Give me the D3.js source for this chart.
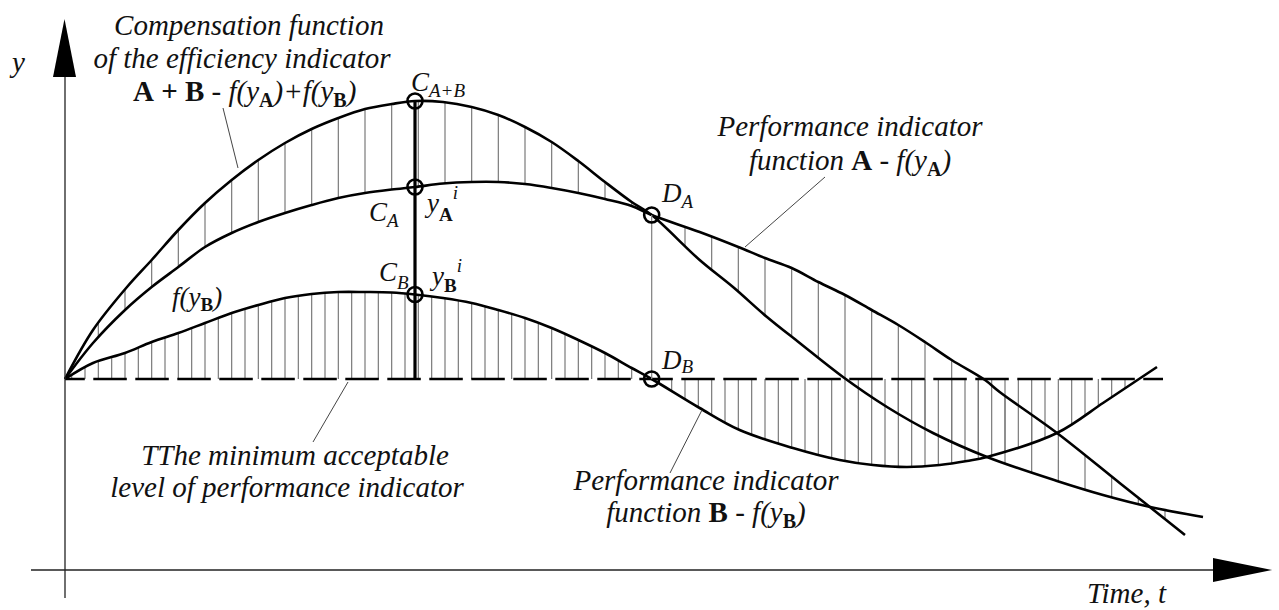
<!DOCTYPE html>
<html><head><meta charset="utf-8">
<script src="https://cdn.jsdelivr.net/npm/d3@7"></script>
<style>
html,body{margin:0;padding:0;background:#fff;}
svg{display:block;}
</style></head><body>
<svg id="chart" width="1279" height="610"></svg>
<script>
// ---- data (t = time units, v = indicator level; 0 = minimum acceptable level) ----
const sumT = [0, 2.1, 4.65, 6.5, 8.5, 10.5, 12.5, 14.5, 16.5, 18.5, 20.5, 22.5, 24.5, 26.25, 28.35, 30.5, 32.5, 34.5, 36.5, 38.5, 40.5, 42.5, 44, 47.6, 50.1, 52.65, 55.1, 58.35, 61.65, 65.1, 69.15, 74.4, 77.85, 81.4, 85.35];
const sumV = [0, 4.9, 9.2, 11.9, 14.9, 17.6, 19.9, 21.9, 23.6, 25.0, 26.1, 27.0, 27.5, 27.8, 27.7, 27.2, 26.4, 25.2, 23.7, 21.8, 19.7, 17.7, 16.4, 11.9, 9.2, 6.2, 3.6, 0.2, -2.8, -5.4, -7.8, -10.2, -11.6, -12.8, -13.8];
const aT = [0, 2.1, 4.5, 6.5, 8.5, 10.5, 12.5, 14.5, 16.5, 18.5, 20.5, 22.5, 24.5, 26.25, 28.35, 30.5, 32.5, 34.5, 36.5, 38.5, 40.5, 42.5, 44, 47.6, 50.5, 52.5, 54.5, 56.5, 58.5, 60.5, 62.5, 64.5, 66.5, 69, 70.1, 74.4, 79.1, 84];
const aV = [0, 3.6, 6.9, 9.2, 11.2, 13.2, 14.6, 15.7, 16.6, 17.4, 18.1, 18.6, 18.95, 19.2, 19.55, 19.7, 19.7, 19.5, 19.1, 18.6, 18.0, 17.3, 16.4, 14.7, 13.2, 12.1, 11.1, 9.7, 8.4, 6.9, 5.4, 3.7, 1.9, -0.1, -1.3, -5.4, -10.4, -15.6];
const bT = [0, 2.1, 4.5, 6.5, 8.5, 10.5, 12.5, 14.5, 16.5, 18.5, 20.5, 22.5, 24.5, 26.25, 28.35, 30.5, 32.5, 34.5, 36.5, 38.5, 40.5, 42.5, 44, 47.6, 50.6, 54.6, 58.1, 60.6, 63.15, 65.6, 67.65, 69.15, 74.4, 77.85, 80.1, 81.9];
const bV = [0, 1.6, 2.6, 3.7, 4.6, 5.6, 6.6, 7.4, 8.1, 8.5, 8.7, 8.7, 8.65, 8.45, 8.1, 7.6, 6.9, 6.1, 5.1, 3.9, 2.6, 1.1, 0, -2.9, -5.1, -6.9, -8.1, -8.6, -8.8, -8.6, -8.2, -7.8, -5.4, -2.4, -0.4, 1.2];
const minLevel = 0;
const minLevelEnd = 82.35;
const cT = 26.25;   // moment C
const dT = 44;      // moment D
const hatchSumA = d3.range(2.5, 84, 2);
const hatchB = d3.range(0.5, 81, 1);

// ---- scales ----
const FONT = '"Liberation Serif"';
const svg = d3.select('#chart');
const x = d3.scaleLinear().domain([0, 90]).range([65, 1265]);
const y = d3.scaleLinear().domain([-20, 30]).range([579, 79]);
const line = d3.line().x(d => x(d[0])).y(d => y(d[1])).curve(d3.curveCatmullRom.alpha(0.5));
const zip = (T, V) => T.map((t, i) => [t, V[i]]);

const gH = svg.append('g');
const gC = svg.append('g');

function drawCurve(T, V) {
  return gC.append('path').attr('d', line(zip(T, V)))
    .attr('fill', 'none').attr('stroke', '#000').attr('stroke-width', 2.6)
    .attr('stroke-linejoin', 'round').node();
}
const pSum = drawCurve(sumT, sumV);
const pA = drawCurve(aT, aV);
const pB = drawCurve(bT, bV);

function yAt(node, px) {
  const L = node.getTotalLength();
  let lo = 0, hi = L;
  for (let i = 0; i < 40; i++) {
    const mid = (lo + hi) / 2;
    if (node.getPointAtLength(mid).x < px) lo = mid; else hi = mid;
  }
  return node.getPointAtLength((lo + hi) / 2).y;
}

// ---- hatching ----
hatchSumA.forEach(t => {
  if (t > d3.max(aT) || t > d3.max(sumT)) return;
  const px = x(t), y1 = yAt(pSum, px), y2 = yAt(pA, px);
  if (Math.abs(y1 - y2) < 1.5) return;
  gH.append('line').attr('x1', px).attr('x2', px).attr('y1', y1).attr('y2', y2)
    .attr('stroke', '#7a7a7a').attr('stroke-width', 1.2);
});
hatchB.forEach(t => {
  if (t > d3.max(bT)) return;
  const px = x(t), y1 = y(minLevel), y2 = yAt(pB, px);
  if (Math.abs(y1 - y2) < 1.5) return;
  gH.append('line').attr('x1', px).attr('x2', px).attr('y1', y1).attr('y2', y2)
    .attr('stroke', '#7a7a7a').attr('stroke-width', 1.2);
});

// ---- minimum acceptable level (dashed) ----
svg.append('line').attr('x1', x(0)).attr('x2', x(minLevelEnd))
  .attr('y1', y(minLevel)).attr('y2', y(minLevel))
  .attr('stroke', '#000').attr('stroke-width', 2.6)
  .attr('stroke-dasharray', '33.5 8.5').attr('stroke-dashoffset', 13.7);

// ---- axes ----
const axisC = '#222';
svg.append('line').attr('x1', x(0)).attr('x2', x(0)).attr('y1', 77).attr('y2', 598)
  .attr('stroke', axisC).attr('stroke-width', 1.3);
svg.append('line').attr('x1', 31).attr('x2', 1213).attr('y1', 570).attr('y2', 570)
  .attr('stroke', axisC).attr('stroke-width', 1.3);
svg.append('polygon').attr('points', `${x(0)-0.5},19 ${x(0)-12},77 ${x(0)+11},77`).attr('fill', '#000');
svg.append('polygon').attr('points', '1272,570 1213,558 1213,582').attr('fill', '#000');

// ---- C and D verticals ----
const cx = x(cT), dx = x(dT);
const ySumC = yAt(pSum, cx), yAC = yAt(pA, cx), yBC = yAt(pB, cx);
const yAD = yAt(pA, dx), yBD = yAt(pB, dx);
svg.append('line').attr('x1', cx).attr('x2', cx).attr('y1', ySumC).attr('y2', y(minLevel))
  .attr('stroke', '#000').attr('stroke-width', 3.2);
svg.append('line').attr('x1', dx).attr('x2', dx).attr('y1', yAD).attr('y2', yBD)
  .attr('stroke', '#888').attr('stroke-width', 1.3);
[[cx, ySumC], [cx, yAC], [cx, yBC], [dx, yAD], [dx, y(minLevel)]].forEach(([px, py]) => {
  svg.append('circle').attr('cx', px).attr('cy', py).attr('r', 7.5)
    .attr('fill', 'none').attr('stroke', '#000').attr('stroke-width', 2.6);
});

// ---- leader lines ----
[[223, 108, 238, 168], [825, 177, 745, 247], [348, 382, 313, 442], [702, 410, 670, 473]].forEach(l => {
  svg.append('line').attr('x1', l[0]).attr('y1', l[1]).attr('x2', l[2]).attr('y2', l[3])
    .attr('stroke', '#444').attr('stroke-width', 1);
});

// ---- texts: each styled run is its own <text>, placed by measured width ----
function rich(px, py, parts, anchor) {
  const g = svg.append('g');
  let cur = 0, dyc = 0;
  const nodes = parts.map(p => {
    dyc += (p.dy || 0);
    const t = g.append('text').attr('x', 0).attr('y', py + dyc)
      .attr('font-size', p.fs || 29)
      .attr('font-style', p.it ? 'italic' : 'normal')
      .attr('font-weight', p.b ? 'bold' : 'normal')
      .style('font-family', FONT)
      .style('font-style', p.it ? 'italic' : 'normal')
      .style('font-weight', p.b ? 'bold' : 'normal')
      .attr('fill', '#111')
      .text(p.s.replace(/ /g, '\u00A0'));
    const w = t.node().getComputedTextLength();
    const o = {t, at: cur};
    cur += w;
    return o;
  });
  const shift = anchor === 'middle' ? -cur / 2 : 0;
  nodes.forEach(o => o.t.attr('x', px + shift + o.at));
  return g;
}
rich(249, 35, [{s: 'Compensation function', it: 1}], 'middle');
rich(242, 68, [{s: 'of the efficiency indicator', it: 1}], 'middle');
rich(133, 101, [
  {s: 'A + B', b: 1}, {s: ' - '}, {s: 'f(y', it: 1},
  {s: 'A', b: 1, fs: 20, dy: 6}, {s: ')+f(y', it: 1, dy: -6},
  {s: 'B', b: 1, fs: 20, dy: 6}, {s: ')', it: 1, dy: -6}]);
rich(12, 72, [{s: 'y', it: 1}]);

rich(411, 91, [{s: 'C', it: 1, fs: 27}, {s: 'A+B', it: 1, fs: 19, dy: 6}]);
rich(369, 221, [{s: 'C', it: 1, fs: 27}, {s: 'A', it: 1, fs: 19, dy: 6}]);
rich(427, 212, [{s: 'y', it: 1, fs: 27}, {s: 'A', b: 1, fs: 19, dy: 9}, {s: 'i', it: 1, fs: 19, dy: -22}]);
rich(379, 281, [{s: 'C', it: 1, fs: 27}, {s: 'B', it: 1, fs: 19, dy: 8}]);
rich(432, 285, [{s: 'y', it: 1, fs: 27}, {s: 'B', b: 1, fs: 19, dy: 7}, {s: 'i', it: 1, fs: 19, dy: -20}]);
rich(172, 306, [{s: 'f(y', it: 1, fs: 27}, {s: 'B', b: 1, fs: 19, dy: 5}, {s: ')', it: 1, fs: 27, dy: -5}]);
rich(662, 202, [{s: 'D', it: 1, fs: 27}, {s: 'A', it: 1, fs: 19, dy: 6}]);
rich(662, 369, [{s: 'D', it: 1, fs: 27}, {s: 'B', it: 1, fs: 19, dy: 4}]);

rich(850, 136, [{s: 'Performance indicator', it: 1}], 'middle');
rich(850, 170, [{s: 'function ', it: 1}, {s: 'A', b: 1}, {s: ' - '}, {s: 'f(y', it: 1},
  {s: 'A', b: 1, fs: 20, dy: 6}, {s: ')', it: 1, dy: -6}], 'middle');
rich(295, 465, [{s: 'TThe minimum acceptable', it: 1}], 'middle');
rich(287, 497, [{s: 'level of performance indicator', it: 1}], 'middle');
rich(706, 490, [{s: 'Performance indicator', it: 1}], 'middle');
rich(706, 522, [{s: 'function ', it: 1}, {s: 'B', b: 1}, {s: ' - '}, {s: 'f(y', it: 1},
  {s: 'B', b: 1, fs: 20, dy: 6}, {s: ')', it: 1, dy: -6}], 'middle');
rich(1087, 603, [{s: 'Time, t', it: 1}]);
</script>
</body></html>
